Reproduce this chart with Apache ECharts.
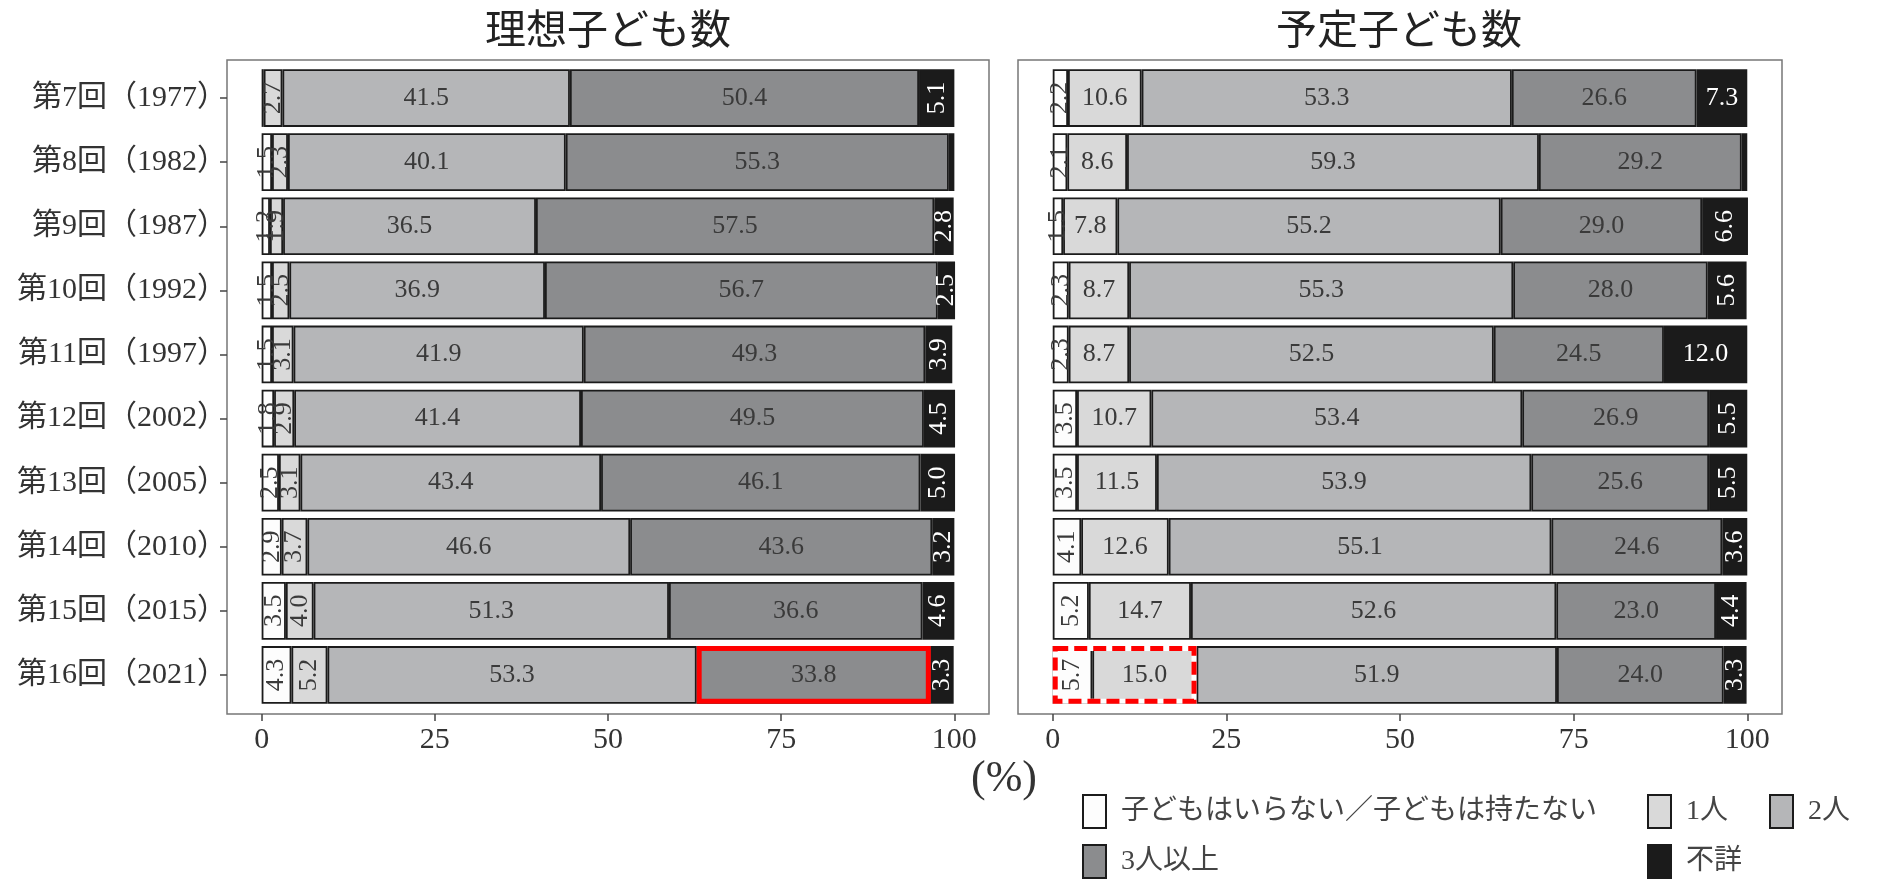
<!DOCTYPE html>
<html>
<head>
<meta charset="utf-8">
<script src="https://cdn.jsdelivr.net/npm/echarts@6/dist/echarts.min.js"></script>
<style>
  html, body { margin: 0; padding: 0; background: #ffffff; }
  #chart { width: 1879px; height: 884px; }
</style>
</head>
<body>
<div id="chart"></div>
<script>
// Survey rounds (rows, top to bottom)
const surveys = ['第7回（1977）', '第8回（1982）', '第9回（1987）', '第10回（1992）', '第11回（1997）',
                 '第12回（2002）', '第13回（2005）', '第14回（2010）', '第15回（2015）', '第16回（2021）'];

// Answer categories (stack order, left to right)
const answerNames = ['子どもはいらない／子どもは持たない', '1人', '2人', '3人以上', '不詳'];

// 理想子ども数 (%)
const idealNone      = [0.3, 1.5, 1.2, 1.5, 1.5, 1.8, 2.5, 2.9, 3.5, 4.3];
const idealOne       = [2.7, 2.3, 1.9, 2.5, 3.1, 2.9, 3.1, 3.7, 4.0, 5.2];
const idealTwo       = [41.5, 40.1, 36.5, 36.9, 41.9, 41.4, 43.4, 46.6, 51.3, 53.3];
const idealThreePlus = [50.4, 55.3, 57.5, 56.7, 49.3, 49.5, 46.1, 43.6, 36.6, 33.8];
const idealUnknown   = [5.1, 0.8, 2.8, 2.5, 3.9, 4.5, 5.0, 3.2, 4.6, 3.3];

// 予定子ども数 (%)
const plannedNone      = [2.2, 2.1, 1.5, 2.3, 2.3, 3.5, 3.5, 4.1, 5.2, 5.7];
const plannedOne       = [10.6, 8.6, 7.8, 8.7, 8.7, 10.7, 11.5, 12.6, 14.7, 15.0];
const plannedTwo       = [53.3, 59.3, 55.2, 55.3, 52.5, 53.4, 53.9, 55.1, 52.6, 51.9];
const plannedThreePlus = [26.6, 29.2, 29.0, 28.0, 24.5, 26.9, 25.6, 24.6, 23.0, 24.0];
const plannedUnknown   = [7.3, 0.8, 6.6, 5.6, 12.0, 5.5, 5.5, 3.6, 4.4, 3.3];

// Percent axis ticks
const percentTicks = [0, 25, 50, 75, 100];

const idealRows = [idealNone, idealOne, idealTwo, idealThreePlus, idealUnknown];
const plannedRows = [plannedNone, plannedOne, plannedTwo, plannedThreePlus, plannedUnknown];

const fills = ['#fdfdfd', '#d9d9d9', '#b5b6b8', '#8b8c8e', '#1b1b1b'];
const serifFont = '"Liberation Serif", "Noto Sans CJK JP", serif';
const jpFont = '"Liberation Serif", "Noto Sans CJK JP", sans-serif';

function stackSeries(rows, gridIdx) {
  return answerNames.map(function (name, k) {
    return {
      type: 'bar',
      name: name,
      stack: 'total' + gridIdx,
      xAxisIndex: gridIdx,
      yAxisIndex: gridIdx,
      barWidth: '90%',
      itemStyle: { color: fills[k], borderColor: '#1b1b1b', borderWidth: 1.8 },
      label: {
        show: true,
        position: 'inside',
        color: k === 4 ? '#ffffff' : '#3a3a3a',
        fontFamily: serifFont,
        fontSize: 26,
        formatter: function (p) { return Number(p.value).toFixed(1); }
      },
      emphasis: { disabled: true },
      data: rows[k].map(function (v) {
        return { value: v, label: { show: v >= 1, rotate: v < 7 ? 90 : 0 } };
      })
    };
  });
}

// Outlined segment ranges [start, end, row]
function segmentRange(rows, row, fromK, toK) {
  let start = 0;
  for (let k = 0; k < fromK; k++) start += rows[k][row];
  let end = start;
  for (let k = fromK; k <= toK; k++) end += rows[k][row];
  return [start, end, row];
}
const lastRow = surveys.length - 1;

function outlineRenderer(dashed) {
  return function (params, api) {
    const p0 = api.coord([api.value(0), api.value(2)]);
    const p1 = api.coord([api.value(1), api.value(2)]);
    const h = api.size([0, 1])[1] * 0.9;
    const lw = 5;
    const shape = { x: p0[0] + lw / 2, y: p0[1] - h / 2 + lw / 2, width: p1[0] - p0[0] - lw, height: h - lw };
    const children = [];
    if (dashed) {
      children.push({ type: 'rect', shape: shape, style: { fill: null, stroke: '#ffffff', lineWidth: lw } });
    }
    children.push({ type: 'rect', shape: shape,
      style: { fill: null, stroke: '#ff0000', lineWidth: lw, lineDash: dashed ? [13, 6] : null } });
    return { type: 'group', children: children };
  };
}

const chart = echarts.init(document.getElementById('chart'), null, { renderer: 'canvas' });

// Percent axis with 5% padding on both ends of the 0–100 range
const xAxisBase = {
  type: 'value', min: -5, max: 105, offset: 7,
  axisLine: { show: false, onZero: false },
  axisTick: { show: true, length: 7, customValues: percentTicks, lineStyle: { color: '#444', width: 1.5 } },
  axisLabel: { show: true, customValues: percentTicks, color: '#333', fontFamily: serifFont, fontSize: 30, margin: 11 },
  splitLine: { show: false }
};

chart.setOption({
  animation: false,
  backgroundColor: '#ffffff',
  grid: [
    { left: 227, top: 66, width: 762, height: 641, outerBoundsMode: 'none', containLabel: false },
    { left: 1018, top: 66, width: 764, height: 641, outerBoundsMode: 'none', containLabel: false },
    // panel frames
    { left: 227, top: 60, width: 762, height: 654, show: true, borderColor: '#777', borderWidth: 1.5,
      backgroundColor: 'transparent', outerBoundsMode: 'none', containLabel: false },
    { left: 1018, top: 60, width: 764, height: 654, show: true, borderColor: '#777', borderWidth: 1.5,
      backgroundColor: 'transparent', outerBoundsMode: 'none', containLabel: false }
  ],
  xAxis: [
    Object.assign({ gridIndex: 0 }, xAxisBase),
    Object.assign({ gridIndex: 1 }, xAxisBase)
  ],
  yAxis: [
    { type: 'category', gridIndex: 0, data: surveys, inverse: true, position: 'left',
      axisLine: { show: false, onZero: false },
      axisTick: { show: true, alignWithLabel: true, length: 7, lineStyle: { color: '#444', width: 1.5 } },
      axisLabel: { color: '#333', fontFamily: jpFont, fontSize: 30, margin: 0 } },
    { type: 'category', gridIndex: 1, data: surveys, inverse: true, position: 'left',
      axisLine: { show: false, onZero: false }, axisTick: { show: false }, axisLabel: { show: false } }
  ],
  legend: [
    { left: 1082, top: 794, data: [answerNames[0]] },
    { left: 1647, top: 794, data: [answerNames[1]] },
    { left: 1769, top: 794, data: [answerNames[2]] },
    { left: 1082, top: 844, data: [answerNames[3]] },
    { left: 1647, top: 844, data: [answerNames[4]] }
  ].map(function (l) {
    return Object.assign({
      orient: 'horizontal', icon: 'rect', itemWidth: 23, itemHeight: 33, selectedMode: false,
      padding: 0,
      textStyle: { color: '#444', fontFamily: jpFont, fontSize: 28, padding: [0, 0, 0, 10] }
    }, l);
  }),
  graphic: [
    { type: 'text', x: 608, y: 28, silent: true,
      style: { text: '理想子ども数', font: '41px "Noto Sans CJK JP"', fill: '#222', align: 'center', verticalAlign: 'middle' } },
    { type: 'text', x: 1399, y: 28, silent: true,
      style: { text: '予定子ども数', font: '41px "Noto Sans CJK JP"', fill: '#222', align: 'center', verticalAlign: 'middle' } },
    { type: 'text', x: 1004, y: 779, silent: true,
      style: { text: '(%)', font: '44px "Liberation Serif"', fill: '#333', align: 'center', verticalAlign: 'middle' } }
  ],
  series: stackSeries(idealRows, 0).concat(stackSeries(plannedRows, 1)).concat([
    { type: 'custom', name: 'outline-ideal', xAxisIndex: 0, yAxisIndex: 0, z: 5, silent: true,
      renderItem: outlineRenderer(false), encode: { x: [0, 1], y: 2 },
      data: [segmentRange(idealRows, lastRow, 3, 3)] },
    { type: 'custom', name: 'outline-planned', xAxisIndex: 1, yAxisIndex: 1, z: 5, silent: true,
      renderItem: outlineRenderer(true), encode: { x: [0, 1], y: 2 },
      data: [segmentRange(plannedRows, lastRow, 0, 1)] }
  ])
});
</script>
</body>
</html>
